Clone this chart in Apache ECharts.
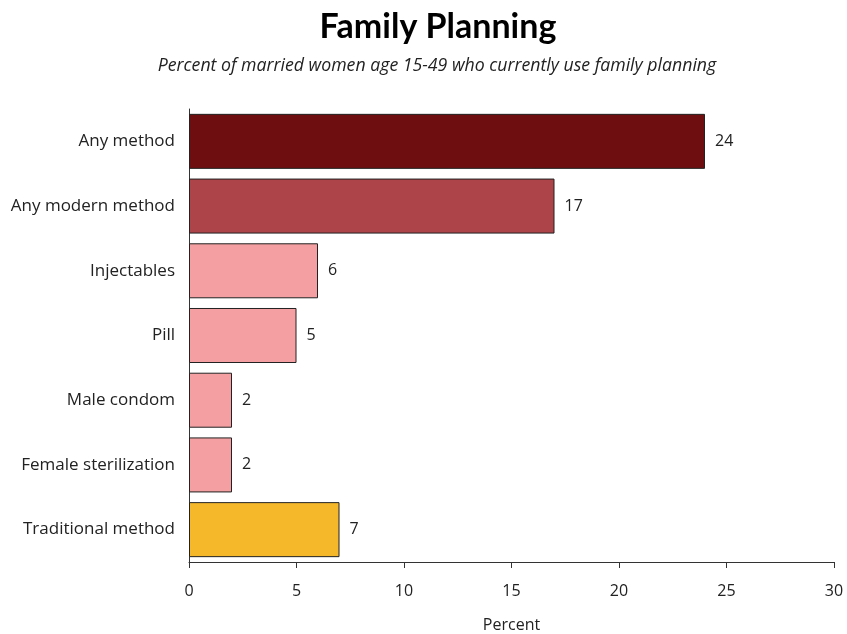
<!DOCTYPE html>
<html>
<head>
<meta charset="utf-8">
<script src="https://cdn.jsdelivr.net/npm/echarts@6/dist/echarts.min.js"></script>
<style>
  html, body { margin: 0; padding: 0; background: #fff; }
  #chart { width: 847px; height: 634px; }
</style>
</head>
<body>
<div id="chart"></div>
<script>
// Contraceptive use among married women, by method (percent)
const categories = ['Any method', 'Any modern method', 'Injectables', 'Pill', 'Male condom', 'Female sterilization', 'Traditional method'];
const values = [24, 17, 6, 5, 2, 2, 7];
const barColors = ['#6f0e10', '#ad4449', '#f4a0a2', '#f4a0a2', '#f4a0a2', '#f4a0a2', '#f5b82a'];
const xTicks = [0, 5, 10, 15, 20, 25, 30];

const FONT = '"Open Sans", Lato, sans-serif';
const TITLE_FONT = 'Lato, "Open Sans", sans-serif';
const chart = echarts.init(document.getElementById('chart'), null, { renderer: 'canvas' });

chart.setOption({
  animation: false,
  backgroundColor: '#ffffff',
  title: [{
    text: 'Family Planning',
    left: 433,
    top: 5,
    textAlign: 'center',
    textStyle: { fontFamily: TITLE_FONT, fontWeight: 'bold', fontSize: 34, color: '#000' }
  }, {
    text: 'Percent of married women age 15-49 who currently use family planning',
    left: 432,
    top: 52,
    textAlign: 'center',
    textStyle: { fontFamily: FONT, fontStyle: 'italic', fontWeight: 'normal', fontSize: 17.7, color: '#222' }
  }],
  grid: { left: 189, right: 13, top: 109, bottom: 72, containLabel: false, outerBoundsMode: 'none' },
  xAxis: {
    type: 'value',
    min: xTicks[0],
    max: xTicks[xTicks.length - 1],
    interval: 5,
    name: 'Percent',
    nameLocation: 'middle',
    nameGap: 55,
    nameTextStyle: { fontFamily: FONT, fontSize: 16, color: '#222' },
    axisLine: { show: true, lineStyle: { color: '#333', width: 1 } },
    axisTick: { show: true, length: 6, lineStyle: { color: '#333' } },
    axisLabel: { fontFamily: FONT, fontSize: 16, color: '#222', margin: 21 },
    splitLine: { show: false }
  },
  yAxis: {
    type: 'category',
    data: categories,
    inverse: true,
    axisLine: { show: true, lineStyle: { color: '#333', width: 1 } },
    axisTick: { show: false },
    axisLabel: { fontFamily: FONT, fontSize: 17, color: '#222', margin: 14 }
  },
  series: [{
    type: 'bar',
    data: values.map((v, i) => ({ value: v, itemStyle: { color: barColors[i] } })),
    barWidth: '85%',
    itemStyle: { borderColor: '#222', borderWidth: 1 },
    label: {
      show: true,
      position: 'right',
      distance: 10,
      fontFamily: FONT,
      fontSize: 16,
      color: '#222'
    }
  }]
});
</script>
</body>
</html>
